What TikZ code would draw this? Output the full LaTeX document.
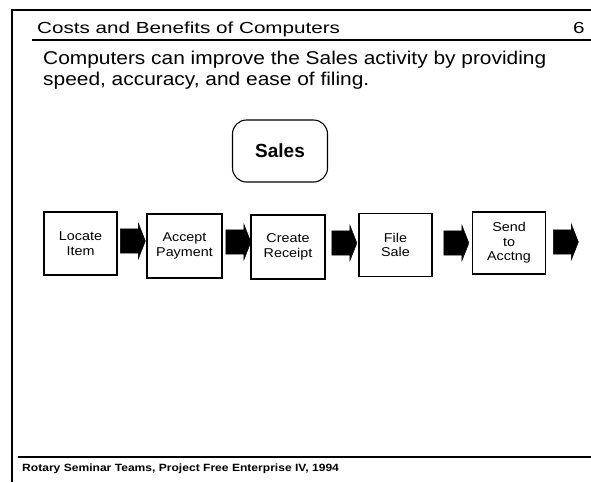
\documentclass[tikz,border=0pt]{standalone}
\usepackage{fontspec}
\setmainfont{Liberation Sans}
\newfontfamily\titlefont[FakeStretch=1.29]{Liberation Sans}
\newfontfamily\widefont[FakeStretch=1.13]{Liberation Sans}
\newfontfamily\boxfont[FakeStretch=1.12]{Liberation Sans}
\newfontfamily\footfont[FakeStretch=1.15]{Liberation Sans}
\usetikzlibrary{shapes.arrows}
\begin{document}
\begin{tikzpicture}[x=1pt,y=-1pt,
  stepbox/.style={draw,line width=1.1pt,minimum width=73pt,minimum height=63pt,align=center,font=\boxfont\fontsize{12.8}{14.5}\selectfont,inner sep=1pt},
  blockarrow/.style={single arrow,fill=black,draw=black,line width=0.4pt,minimum height=25pt,inner ysep=12pt,inner xsep=0pt,single arrow head extend=5.5pt,single arrow tip angle=137},
  bodytext/.style={anchor=base west,font=\widefont\fontsize{18.5}{21}\selectfont,inner sep=0},
  rule/.style={line width=1.4pt}]
\useasboundingbox (0,0) rectangle (591,482);
% frame
\draw[rule] (12,482) -- (12,10) -- (591,10);
\draw[line width=1.2pt] (32,40) -- (591,40);
\draw[line width=1.2pt] (18,457) -- (591,457);
\node[anchor=base west,font=\titlefont\fontsize{16}{19}\selectfont,inner sep=0] (title) at (37,33) {Costs and Benefits of Computers};
\node[anchor=base west,font=\titlefont\fontsize{16}{19}\selectfont,inner sep=0] (pnum) at (573,33) {6};
\node[bodytext] (body1) at (43,64) {Computers can improve the Sales activity by providing};
\node[bodytext] (body2) at (43,85) {speed, accuracy, and ease of filing.};
\node[anchor=base west,font=\footfont\bfseries\fontsize{10.5}{12}\selectfont,inner sep=0] (foot) at (22,471) {Rotary Seminar Teams, Project Free Enterprise IV, 1994};
% sales
\node[draw,line width=1.1pt,rounded corners=14pt,minimum width=95pt,minimum height=62pt,font=\bfseries\fontsize{19}{21}\selectfont] (sales) at (280,151) {Sales};
% steps
\node[stepbox] (s1) at (80.5,243.5) {Locate\\Item};
\node[stepbox,minimum width=75pt,minimum height=64pt] (s2) at (184.5,246) {Accept\\Payment};
\node[stepbox,minimum width=74pt,minimum height=64pt] (s3) at (288,247) {Create\\Receipt};
\node[stepbox] (s4) at (395.5,245) {File\\Sale};
\node[stepbox,minimum height=62pt] (s5) at (509,243) {Send\\to\\Acctng};
\node[blockarrow] (a1) at (130.5,241) {};
\node[blockarrow] (a2) at (236,242) {};
\node[blockarrow] (a3) at (342,243) {};
\node[blockarrow] (a4) at (454,243) {};
\node[blockarrow] (a5) at (563.5,242) {};
\end{tikzpicture}
\end{document}
